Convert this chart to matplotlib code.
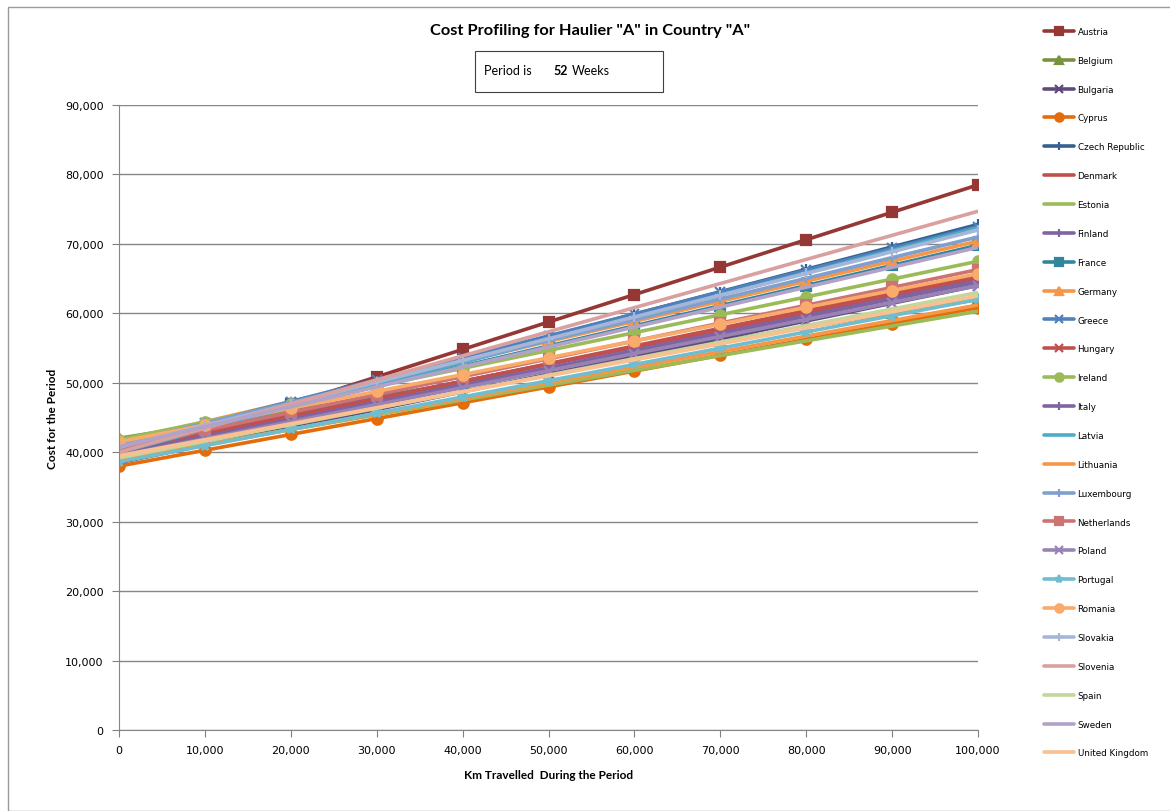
import matplotlib
matplotlib.use("Agg")
import matplotlib.pyplot as plt
from matplotlib.patches import Rectangle
from matplotlib.ticker import FuncFormatter

km = [0, 10000, 20000, 30000, 40000, 50000, 60000, 70000, 80000, 90000, 100000]

countries = [
    "Austria", "Belgium", "Bulgaria", "Cyprus", "Czech Republic", "Denmark",
    "Estonia", "Finland", "France", "Germany", "Greece", "Hungary", "Ireland",
    "Italy", "Latvia", "Lithuania", "Luxembourg", "Netherlands", "Poland",
    "Portugal", "Romania", "Slovakia", "Slovenia", "Spain", "Sweden",
    "United Kingdom",
]

costs = {
    "Austria": [39000, 42950, 46900, 50850, 54800, 58750, 62700, 66650, 70600, 74550, 78500],
    "Belgium": [42000, 44000, 46000, 48000, 50000, 52000, 54000, 56000, 58000, 60000, 62000],
    "Bulgaria": [38500, 41050, 43600, 46150, 48700, 51250, 53800, 56350, 58900, 61450, 64000],
    "Cyprus": [38000, 40280, 42560, 44840, 47120, 49400, 51680, 53960, 56240, 58520, 60800],
    "Czech Republic": [40500, 43730, 46960, 50190, 53420, 56650, 59880, 63110, 66340, 69570, 72800],
    "Denmark": [40000, 42550, 45100, 47650, 50200, 52750, 55300, 57850, 60400, 62950, 65500],
    "Estonia": [39000, 41130, 43260, 45390, 47520, 49650, 51780, 53910, 56040, 58170, 60300],
    "Finland": [40500, 42930, 45360, 47790, 50220, 52650, 55080, 57510, 59940, 62370, 64800],
    "France": [40800, 43700, 46600, 49500, 52400, 55300, 58200, 61100, 64000, 66900, 69800],
    "Germany": [41500, 44390, 47280, 50170, 53060, 55950, 58840, 61730, 64620, 67510, 70400],
    "Greece": [41000, 44150, 47300, 50450, 53600, 56750, 59900, 63050, 66200, 69350, 72500],
    "Hungary": [40200, 42700, 45200, 47700, 50200, 52700, 55200, 57700, 60200, 62700, 65200],
    "Ireland": [41800, 44370, 46940, 49510, 52080, 54650, 57220, 59790, 62360, 64930, 67500],
    "Italy": [39800, 42270, 44740, 47210, 49680, 52150, 54620, 57090, 59560, 62030, 64500],
    "Latvia": [40000, 43230, 46460, 49690, 52920, 56150, 59380, 62610, 65840, 69070, 72300],
    "Lithuania": [38800, 41040, 43280, 45520, 47760, 50000, 52240, 54480, 56720, 58960, 61200],
    "Luxembourg": [41200, 44180, 47160, 50140, 53120, 56100, 59080, 62060, 65040, 68020, 71000],
    "Netherlands": [40600, 43170, 45740, 48310, 50880, 53450, 56020, 58590, 61160, 63730, 66300],
    "Poland": [39500, 41950, 44400, 46850, 49300, 51750, 54200, 56650, 59100, 61550, 64000],
    "Portugal": [38600, 40940, 43280, 45620, 47960, 50300, 52640, 54980, 57320, 59660, 62000],
    "Romania": [41500, 43920, 46340, 48760, 51180, 53600, 56020, 58440, 60860, 63280, 65700],
    "Slovakia": [40700, 43830, 46960, 50090, 53220, 56350, 59480, 62610, 65740, 68870, 72000],
    "Slovenia": [40000, 43470, 46940, 50410, 53880, 57350, 60820, 64290, 67760, 71230, 74700],
    "Spain": [39200, 41580, 43960, 46340, 48720, 51100, 53480, 55860, 58240, 60620, 63000],
    "Sweden": [40800, 43670, 46540, 49410, 52280, 55150, 58020, 60890, 63760, 66630, 69500],
    "United Kingdom": [39500, 41800, 44100, 46400, 48700, 51000, 53300, 55600, 57900, 60200, 62500],
}

# Excel 2007 style colour / marker cycle
styles = {
    "Austria": ("#953735", "s"),
    "Belgium": ("#77933C", "^"),
    "Bulgaria": ("#604A7B", "x"),
    "Cyprus": ("#E46C0A", "o"),
    "Czech Republic": ("#376092", "+"),
    "Denmark": ("#C0504D", None),
    "Estonia": ("#9BBB59", None),
    "Finland": ("#8064A2", "+"),
    "France": ("#31859C", "s"),
    "Germany": ("#F79646", "^"),
    "Greece": ("#4F81BD", "x"),
    "Hungary": ("#C0504D", "x"),
    "Ireland": ("#9BBB59", "o"),
    "Italy": ("#8064A2", "+"),
    "Latvia": ("#4BACC6", None),
    "Lithuania": ("#F79646", None),
    "Luxembourg": ("#7F9FCF", "+"),
    "Netherlands": ("#CD7371", "s"),
    "Poland": ("#9983B5", "x"),
    "Portugal": ("#6FBDD1", "*"),
    "Romania": ("#F9AB6B", "o"),
    "Slovakia": ("#A5B6D8", "+"),
    "Slovenia": ("#D9A0A0", None),
    "Spain": ("#C3D69B", None),
    "Sweden": ("#B3A2C7", None),
    "United Kingdom": ("#FAC090", None),
}

fig = plt.figure(figsize=(11.7, 8.12), dpi=100)
ax = fig.add_axes([119 / 1170, 81 / 812, 859 / 1170, 625 / 812])

for name in countries:
    color, marker = styles[name]
    ax.plot(km, costs[name], color=color, lw=2.6, marker=marker, ms=7.5,
            mew=1.6, mec=color, mfc=color, label=name, solid_capstyle="round")

ax.set_xlim(0, 100000)
ax.set_ylim(0, 90000)
ax.set_xticks(range(0, 100001, 10000))
ax.set_yticks(range(0, 90001, 10000))
fmt = FuncFormatter(lambda v, p: f"{int(v):,}")
ax.xaxis.set_major_formatter(fmt)
ax.yaxis.set_major_formatter(fmt)
ax.tick_params(labelsize=8, length=5, width=0.8, direction="out",
               colors="#808080", labelcolor="black")
ax.xaxis.set_tick_params(pad=6)
ax.yaxis.set_tick_params(pad=6)

ax.grid(axis="y", color="#868686", lw=1.0)
ax.set_axisbelow(True)
for side in ["top", "right"]:
    ax.spines[side].set_visible(False)
for side in ["left", "bottom"]:
    ax.spines[side].set_color("#868686")

ax.set_xlabel("Km Travelled  During the Period", fontsize=8.5, fontweight="bold",
              family="Lato", labelpad=10)
ax.set_ylabel("Cost for the Period", fontsize=8.5, fontweight="bold",
              family="Lato", labelpad=5)

fig.text(590 / 1170, 1 - 31 / 812, 'Cost Profiling for Haulier "A" in Country "A"',
         ha="center", va="center", fontsize=11.8, fontweight="bold", family="Lato")

fig.patches.append(Rectangle((475 / 1170, 1 - 93 / 812), 188 / 1170, 41 / 812,
                             transform=fig.transFigure, fill=False,
                             edgecolor="#404040", lw=0.8))
fig.text(484 / 1170, 1 - 71 / 812, "Period is", ha="left", va="center",
         fontsize=9, family="Lato")
fig.text(553 / 1170, 1 - 71 / 812, "52", ha="left", va="center",
         fontsize=9, fontweight="bold", family="Lato")
fig.text(572 / 1170, 1 - 71 / 812, "Weeks", ha="left", va="center",
         fontsize=9, family="Lato")

leg = ax.legend(loc="upper left", bbox_to_anchor=(1036 / 1170, 1 - 20 / 812),
                bbox_transform=fig.transFigure, frameon=False, fontsize=6.3,
                handlelength=3.4, labelspacing=2.27, handletextpad=0.45,
                markerscale=0.8)

# outer chart border
fig.patches.append(Rectangle((8 / 1170, 0), 1.2, 1 - 8 / 812,
                             transform=fig.transFigure, fill=False,
                             edgecolor="#9a9a9a", lw=1.0))

fig.savefig("out.png", dpi=100)
